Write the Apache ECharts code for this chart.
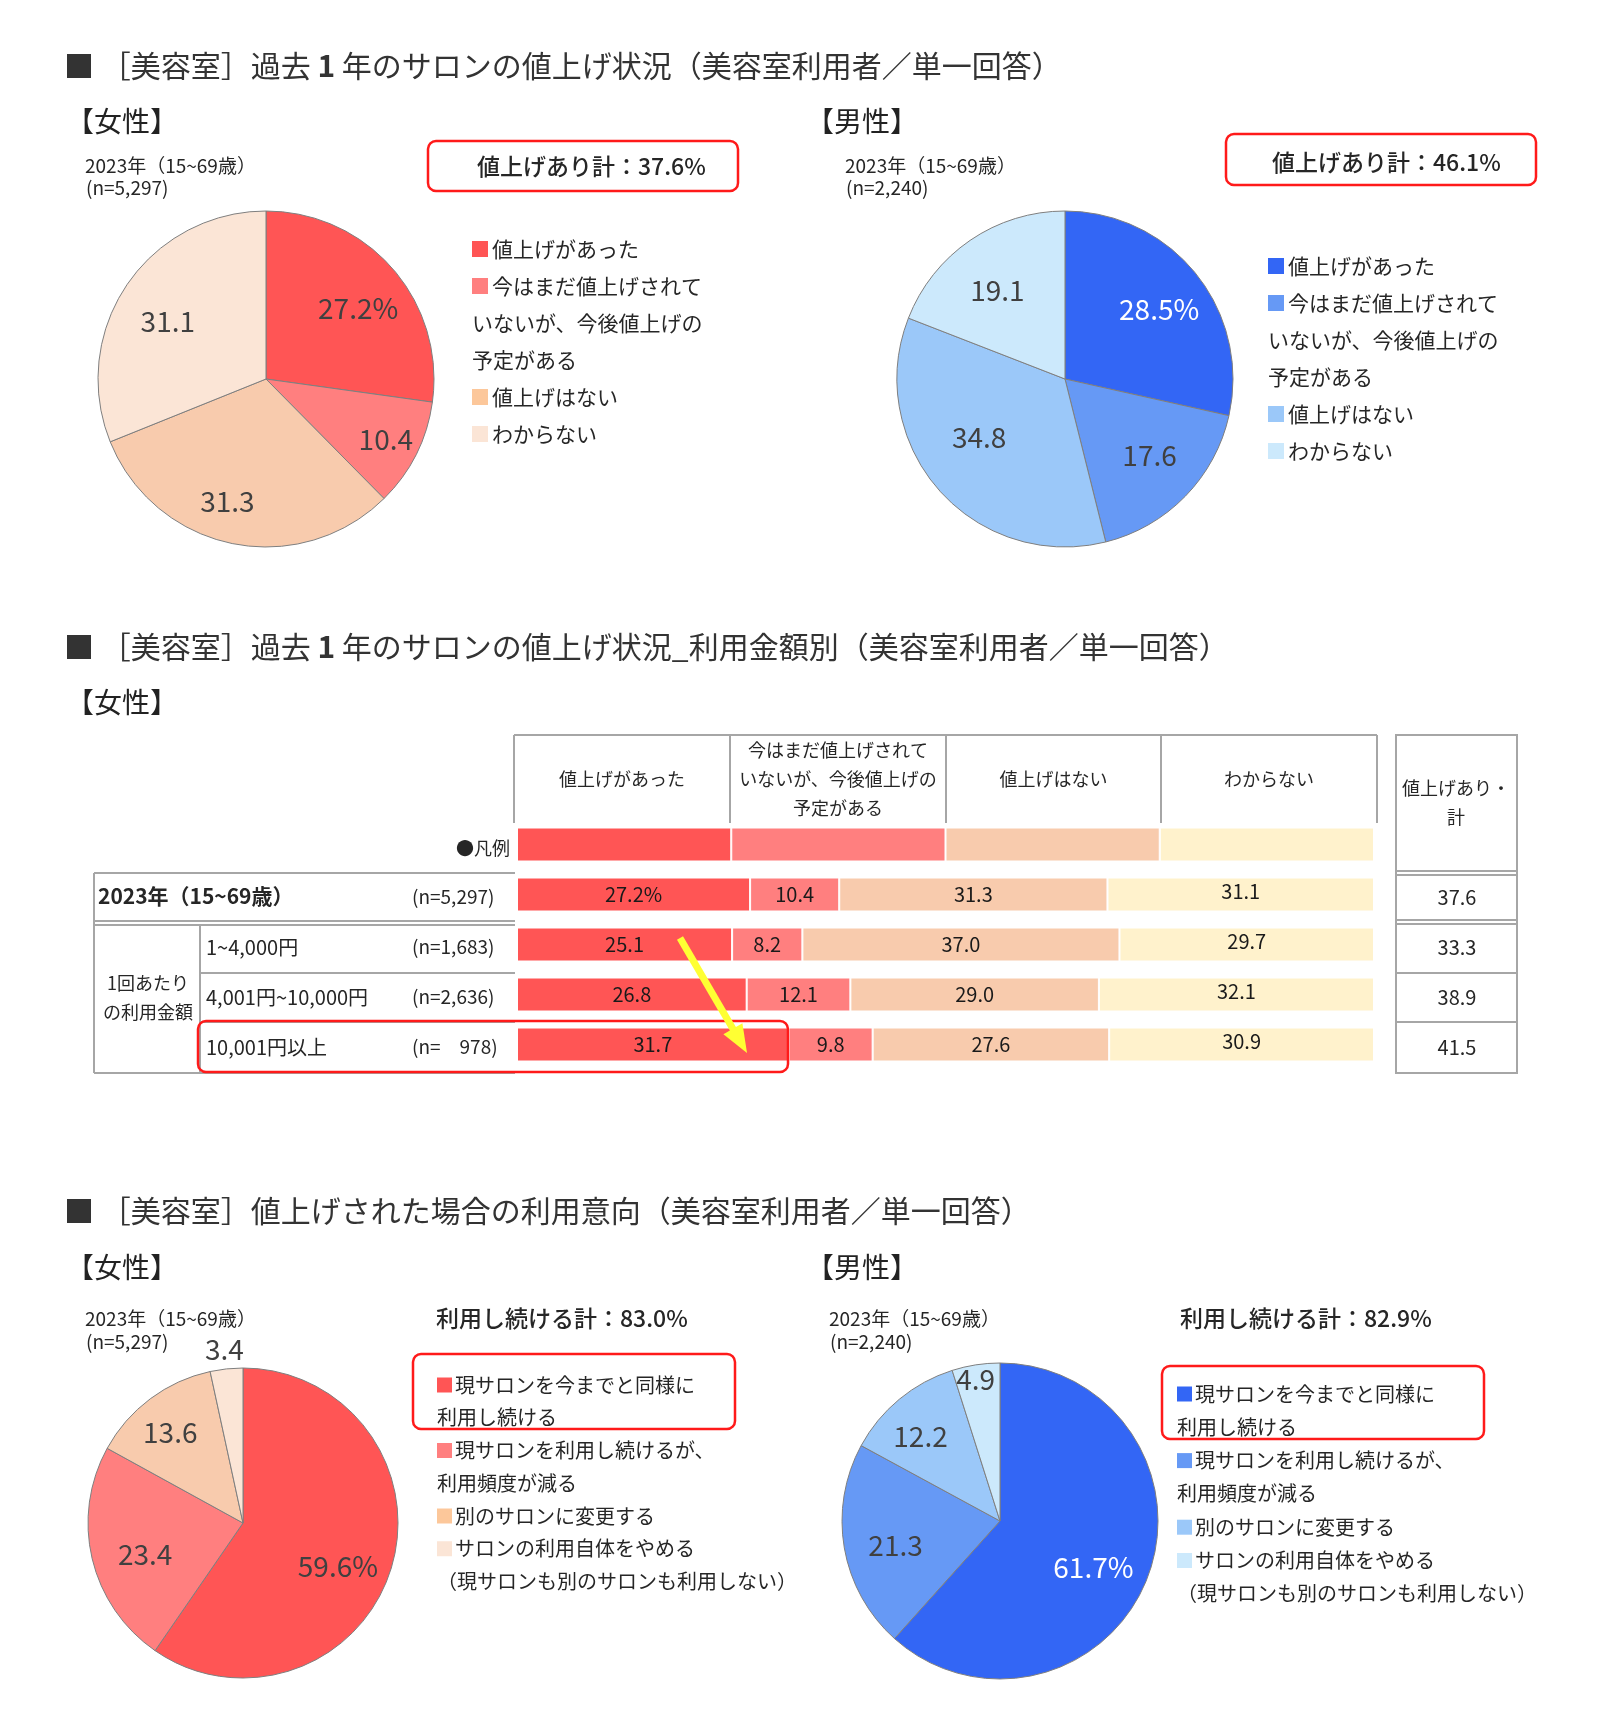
<!DOCTYPE html>
<html><head><meta charset="utf-8">
<script src="https://cdn.jsdelivr.net/npm/echarts@6/dist/echarts.min.js"></script>
<style>html,body{margin:0;padding:0;background:#fff}#c{width:1600px;height:1714px}</style>
</head><body><div id="c"></div>
<script>
// ================= DATA =================
const priceCats = ['値上げがあった', '今はまだ値上げされて\nいないが、今後値上げの\n予定がある', '値上げはない', 'わからない'];
const femaleRaise = [27.2, 10.4, 31.3, 31.1];
const maleRaise = [28.5, 17.6, 34.8, 19.1];
const femaleRaiseTotal = 37.6;
const maleRaiseTotal = 46.1;

const intentCats = ['現サロンを今までと同様に\n利用し続ける', '現サロンを利用し続けるが、\n利用頻度が減る', '別のサロンに変更する', 'サロンの利用自体をやめる\n（現サロンも別のサロンも利用しない）'];
const femaleIntent = [59.6, 23.4, 13.6, 3.4];
const maleIntent = [61.7, 21.3, 12.2, 4.9];
const femaleContinueTotal = 83.0;
const maleContinueTotal = 82.9;

const sampleFemale = '(n=5,297)';
const sampleMale = '(n=2,240)';
const surveyLabel = '2023年（15~69歳）';

const rowLabels = ['2023年（15~69歳）', '1~4,000円', '4,001円~10,000円', '10,001円以上'];
const rowN = ['(n=5,297)', '(n=1,683)', '(n=2,636)', '(n=　978)'];
const rowRaised = [27.2, 25.1, 26.8, 31.7];
const rowPlanned = [10.4, 8.2, 12.1, 9.8];
const rowNone = [31.3, 37.0, 29.0, 27.6];
const rowUnknown = [31.1, 29.7, 32.1, 30.9];
const rowRaiseTotal = [37.6, 33.3, 38.9, 41.5];
const legendSwatch = [25, 25, 25, 25];
const tableHeaders = ['値上げがあった', '今はまだ値上げされて\nいないが、今後値上げの\n予定がある', '値上げはない', 'わからない'];

// ================= STYLE =================
const FONT = "'Noto Sans CJK JP', 'Noto Sans', sans-serif";
const redPie = ['#FF5555', '#FF7F7F', '#F8CBAD', '#FBE5D6'];
const redLegend = ['#FF5555', '#FF7F7F', '#FCC79A', '#FBE5D6'];
const bluePie = ['#3366F5', '#6699F5', '#9BC8F9', '#CCE9FC'];
const barColors = ['#FF5555', '#FF7F7F', '#F8CBAD', '#FFF2CC'];
const TXT = '#262626';
const LINE = '#A6A6A6';
const RED = '#FF1A1A';

function T(x, y, text, size, o) {
  o = o || {};
  const al = o.align || 'left';
  const st = {
    text: text, font: (o.weight || 'normal') + ' ' + size + 'px ' + FONT,
    fill: o.color || TXT, align: al, verticalAlign: 'middle',
    textAlign: al, textVerticalAlign: 'middle'
  };
  if (o.rich) st.rich = o.rich;
  return { type: 'text', x: x, y: y, z: 20, silent: true, style: st };
}
function L(x1, y1, x2, y2, c, w) {
  return { type: 'line', z: 15, silent: true, shape: { x1: x1, y1: y1, x2: x2, y2: y2 }, style: { stroke: c || LINE, lineWidth: w || 2 } };
}
function R(x, y, w, h, c, lw, r) {
  return { type: 'rect', z: 25, silent: true, shape: { x: x, y: y, width: w, height: h, r: r || 8 }, style: { fill: 'transparent', stroke: c || RED, lineWidth: lw || 2.5 } };
}
function legend(x, y0, step, sq, gap, size, cats, colors) {
  const out = [];
  let k = 0;
  cats.forEach(function (c, i) {
    c.split('\n').forEach(function (line, j) {
      const y = y0 + step * k;
      if (j === 0) {
        out.push({ type: 'rect', z: 20, silent: true, shape: { x: x, y: y - sq / 2, width: sq, height: sq }, style: { fill: colors[i] } });
        out.push(T(x + sq + gap, y, line, size));
      } else {
        out.push(T(x, y, line, size));
      }
      k++;
    });
  });
  return out;
}
// fracs: radial position of each label (fraction of radius); turns: angular nudge in degrees
function pieSeries(center, r, values, cats, colors, labelColors, fracs, turns) {
  const total = values.reduce(function (a, b) { return a + b; }, 0);
  let cum = 0;
  const data = values.map(function (v, i) {
    const mid = (cum + v / 2) / total * 2 * Math.PI; cum += v;
    const ang = mid + turns[i] * Math.PI / 180;
    const half = 0.5 * r;
    const tx = fracs[i] * r * Math.sin(ang), ty = -fracs[i] * r * Math.cos(ang);
    const bx = half * Math.sin(mid), by = -half * Math.cos(mid);
    return { value: v, name: cats[i].replace(/\n/g, ''), itemStyle: { color: colors[i] },
      label: { color: labelColors[i], offset: [tx - bx, ty - by] } };
  });
  return {
    type: 'pie', center: center, radius: [0, r], startAngle: 90, clockwise: true,
    silent: true, animation: false, avoidLabelOverlap: false, data: data,
    label: { show: true, position: 'inside', fontSize: 28, fontFamily: FONT,
      formatter: function (p) { return p.dataIndex === 0 ? p.value.toFixed(1) + '%' : p.value.toFixed(1); } },
    labelLine: { show: false },
    itemStyle: { borderColor: '#7F7F7F', borderWidth: 1 },
    emphasis: { disabled: true }
  };
}

// ================= GRAPHICS =================
const g = [];
const titleRich = { b: { fontSize: 30, fontWeight: 'bold', fontFamily: FONT, fill: '#333' } };
g.push(T(64, 66, '■ ［美容室］過去 {b|1} 年のサロンの値上げ状況（美容室利用者／単一回答）', 30, { color: '#333', rich: titleRich }));
g.push(T(64, 647, '■ ［美容室］過去 {b|1} 年のサロンの値上げ状況_利用金額別（美容室利用者／単一回答）', 30, { color: '#333', rich: titleRich }));
g.push(T(64, 1211, '■ ［美容室］値上げされた場合の利用意向（美容室利用者／単一回答）', 30, { color: '#333' }));

g.push(T(66, 121, '【女性】', 28, { color: '#222' }));
g.push(T(806, 121, '【男性】', 28, { color: '#222' }));
g.push(T(66, 702, '【女性】', 28, { color: '#222' }));
g.push(T(66, 1267, '【女性】', 28, { color: '#222' }));
g.push(T(806, 1267, '【男性】', 28, { color: '#222' }));

// section 1
g.push(T(85, 166, surveyLabel, 19));
g.push(T(86, 188, sampleFemale, 19));
g.push(T(845, 166, surveyLabel, 19));
g.push(T(846, 188, sampleMale, 19));
g.push(R(428, 141, 310, 50));
g.push(T(477, 166, '値上げあり計：' + femaleRaiseTotal.toFixed(1) + '%', 23, { weight: 500 }));
g.push(R(1226, 134, 310, 51));
g.push(T(1272, 162, '値上げあり計：' + maleRaiseTotal.toFixed(1) + '%', 23, { weight: 500 }));
legend(472, 249, 37, 16, 4, 21, priceCats, redLegend).forEach(function (e) { g.push(e); });
legend(1268, 266, 37, 16, 4, 21, priceCats, bluePie).forEach(function (e) { g.push(e); });

// section 2 table
const colX = [514, 730, 946, 1161, 1377];
g.push(L(514, 735, 1377, 735));
colX.forEach(function (x) { g.push(L(x, 735, x, 823)); });
tableHeaders.forEach(function (h, i) {
  const cx = (colX[i] + colX[i + 1]) / 2;
  const lines = h.split('\n');
  lines.forEach(function (ln, j) {
    g.push(T(cx, 779 + (j - (lines.length - 1) / 2) * 29, ln, 18, { align: 'center' }));
  });
});
g.push(T(510, 848, '●凡例', 18, { align: 'right' }));
// left table lines
g.push(L(94, 873, 515, 873));
g.push(L(94, 921, 515, 921));
g.push(L(94, 925, 515, 925));
g.push(L(94, 873, 94, 1073));
g.push(L(200, 925, 200, 1073));
g.push(L(200, 973, 515, 973));
g.push(L(200, 1022, 515, 1022));
g.push(L(94, 1073, 515, 1073));
// right total box
g.push({ type: 'rect', z: 15, silent: true, shape: { x: 1396, y: 735, width: 121, height: 338 }, style: { fill: 'transparent', stroke: LINE, lineWidth: 2 } });
[871, 875, 920, 924, 973, 1022].forEach(function (y) { g.push(L(1396, y, 1517, y)); });
g.push(T(1456, 788, '値上げあり・', 18, { align: 'center' }));
g.push(T(1456, 817, '計', 18, { align: 'center' }));
const rowY = [896, 946, 996, 1046];
rowLabels.forEach(function (lb, i) {
  if (i === 0) g.push(T(98, rowY[i], lb, 21, { weight: 'bold' }));
  else g.push(T(206, rowY[i] + 1, lb, 20));
  g.push(T(412, rowY[i] + 1, rowN[i], 19));
  g.push(T(1457, rowY[i] + 1, rowRaiseTotal[i].toFixed(1), 20, { align: 'center' }));
});
g.push(T(148, 983, '1回あたり', 18, { align: 'center' }));
g.push(T(148, 1012, 'の利用金額', 18, { align: 'center' }));
g.push(R(198, 1021, 590, 51));
// yellow arrow
(function () {
  const x1 = 680, y1 = 938, x2 = 747, y2 = 1053;
  const dx = x2 - x1, dy = y2 - y1, len = Math.sqrt(dx * dx + dy * dy);
  const ux = dx / len, uy = dy / len, nx = uy, ny = -ux;
  const hl = 28, hw = 11;
  const bx = x2 - hl * ux, by = y2 - hl * uy;
  g.push({ type: 'line', z: 30, silent: true, shape: { x1: x1, y1: y1, x2: bx + 2 * ux, y2: by + 2 * uy }, style: { stroke: '#FFFF33', lineWidth: 7 } });
  g.push({ type: 'polygon', z: 30, silent: true, shape: { points: [[x2, y2], [bx + hw * nx, by + hw * ny], [bx - hw * nx, by - hw * ny]] }, style: { fill: '#FFFF33' } });
})();

// section 3
g.push(T(85, 1319, surveyLabel, 19));
g.push(T(86, 1342, sampleFemale, 19));
g.push(T(829, 1319, surveyLabel, 19));
g.push(T(830, 1342, sampleMale, 19));
g.push(T(436, 1318, '利用し続ける計：' + femaleContinueTotal.toFixed(1) + '%', 23, { weight: 500 }));
g.push(T(1180, 1318, '利用し続ける計：' + maleContinueTotal.toFixed(1) + '%', 23, { weight: 500 }));
g.push(R(413, 1354, 322, 75));
g.push(R(1162, 1366, 322, 73));
legend(437, 1385, 32.75, 15, 3, 20, intentCats, redLegend).forEach(function (e) { g.push(e); });
legend(1177, 1394, 33.3, 15, 3, 20, intentCats, bluePie).forEach(function (e) { g.push(e); });

// ================= SERIES =================
const series = [];
const dark4 = ['#404040', '#404040', '#404040', '#404040'];
const whiteFirst = ['#FFFFFF', '#404040', '#404040', '#404040'];
series.push(pieSeries([266, 379], 168, femaleRaise, priceCats, redPie, dark4, [0.675, 0.78, 0.745, 0.66], [3.5, 0, 6, -3.7]));
series.push(pieSeries([1065, 379], 168, maleRaise, priceCats, bluePie, whiteFirst, [0.68, 0.66, 0.6, 0.645], [2.2, -2.3, 7.4, -3.1]));
series.push(pieSeries([243, 1523], 155, femaleIntent, intentCats, redPie, dark4, [0.655, 0.644, 0.73, 1.11], [7.7, -4.6, -2.1, 0]));
series.push(pieSeries([1000, 1521], 158, maleIntent, intentCats, bluePie, whiteFirst, [0.64, 0.66, 0.715, 0.89], [5.4, -3.5, -3.8, -1]));

const barRows = [rowRaised, rowPlanned, rowNone, rowUnknown];
barRows.forEach(function (arr, si) {
  series.push({
    type: 'bar', stack: 'price', barWidth: 34, silent: true, animation: false,
    name: tableHeaders[si].replace(/\n/g, ''),
    data: [legendSwatch[si]].concat(arr),
    itemStyle: { color: barColors[si], borderColor: '#FFFFFF', borderWidth: 1 },
    label: { show: true, position: 'inside', fontSize: 20, fontFamily: FONT, color: '#1A1A1A',
      offset: si === 3 ? [0, -3] : [0, 0],
      formatter: function (p) {
        if (p.dataIndex === 0) return '';
        return (si === 0 && p.dataIndex === 1) ? p.value.toFixed(1) + '%' : p.value.toFixed(1);
      } },
    emphasis: { disabled: true }
  });
});

const chart = echarts.init(document.getElementById('c'), null, { renderer: 'canvas' });
chart.setOption({
  backgroundColor: '#FFFFFF',
  animation: false,
  textStyle: { fontFamily: FONT },
  grid: { left: 517, top: 819.5, width: 857, height: 250 },
  xAxis: { type: 'value', min: 0, max: 100, show: false },
  yAxis: { type: 'category', inverse: true, show: false, data: ['凡例'].concat(rowLabels) },
  series: series,
  graphic: g
});
</script>
</body></html>
